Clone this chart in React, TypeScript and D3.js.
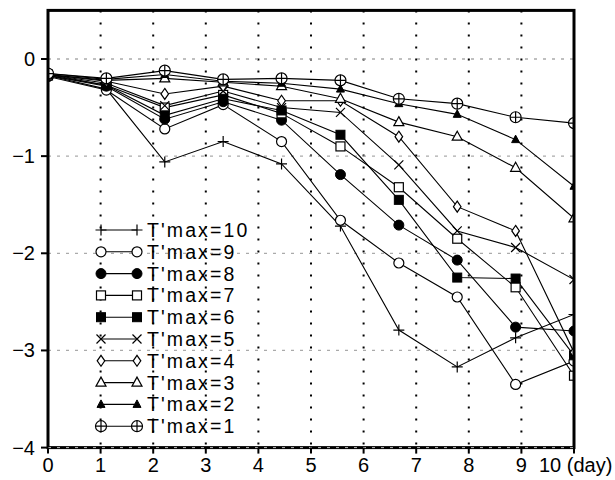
import React from "react";
import * as d3 from "d3";

const days = [0, 1.11, 2.22, 3.33, 4.44, 5.56, 6.67, 7.78, 8.89, 10];
const xTicks = [0, 1, 2, 3, 4, 5, 6, 7, 8, 9];
const yTicks = [0, -1, -2, -3, -4];
const seriesNames = ["T'max=10", "T'max=9", "T'max=8", "T'max=7", "T'max=6", "T'max=5", "T'max=4", "T'max=3", "T'max=2", "T'max=1"];
const t10 = [-0.17, -0.31, -1.06, -0.85, -1.08, -1.72, -2.79, -3.17, -2.87, -2.63];
const t9 = [-0.18, -0.32, -0.72, -0.47, -0.85, -1.66, -2.1, -2.45, -3.35, -3.11];
const t8 = [-0.17, -0.28, -0.62, -0.44, -0.63, -1.19, -1.71, -2.07, -2.76, -2.8];
const t7 = [-0.17, -0.27, -0.5, -0.37, -0.56, -0.9, -1.32, -1.85, -2.35, -3.26];
const t6 = [-0.16, -0.27, -0.58, -0.41, -0.53, -0.78, -1.45, -2.25, -2.26, -3.05];
const t5 = [-0.16, -0.25, -0.48, -0.33, -0.5, -0.55, -1.09, -1.77, -1.94, -2.27];
const t4 = [-0.16, -0.23, -0.36, -0.28, -0.43, -0.43, -0.8, -1.52, -1.77, -3.02];
const t3 = [-0.16, -0.22, -0.2, -0.24, -0.28, -0.41, -0.65, -0.8, -1.12, -1.64];
const t2 = [-0.15, -0.21, -0.16, -0.23, -0.25, -0.31, -0.46, -0.57, -0.83, -1.31];
const t1 = [-0.15, -0.2, -0.12, -0.21, -0.2, -0.22, -0.41, -0.46, -0.6, -0.66];
const seriesValues = [t10, t9, t8, t7, t6, t5, t4, t3, t2, t1];
const markerTypes = ["plus", "circle", "fcircle", "square", "fsquare", "x", "diamond", "triangle", "ftriangle", "circleplus"];

const W = 615, H = 480;
const x = d3.scaleLinear().domain([0, 10]).range([48, 574]);
const y = d3.scaleLinear().domain([-4, 0.5]).range([447.6, 10.4]);

function Marker({ type, cx, cy }: { type: string; cx: number; cy: number }) {
  switch (type) {
    case "plus":
      return <path d={`M${cx - 5.5},${cy}H${cx + 5.5}M${cx},${cy - 5.5}V${cy + 5.5}`} stroke="#000" strokeWidth={1.2} />;
    case "x":
      return <path d={`M${cx - 4.5},${cy - 4.5}L${cx + 4.5},${cy + 4.5}M${cx - 4.5},${cy + 4.5}L${cx + 4.5},${cy - 4.5}`} stroke="#000" strokeWidth={1.2} />;
    case "circle":
      return <circle cx={cx} cy={cy} r={5} fill="#fff" stroke="#000" strokeWidth={1.2} />;
    case "fcircle":
      return <circle cx={cx} cy={cy} r={5} fill="#000" stroke="#000" strokeWidth={1} />;
    case "square":
      return <rect x={cx - 4.5} y={cy - 4.5} width={9} height={9} fill="#fff" stroke="#000" strokeWidth={1.2} />;
    case "fsquare":
      return <rect x={cx - 4.5} y={cy - 4.5} width={9} height={9} fill="#000" stroke="#000" strokeWidth={1} />;
    case "diamond":
      return <path d={`M${cx},${cy - 5.5}L${cx + 3.8},${cy}L${cx},${cy + 5.5}L${cx - 3.8},${cy}Z`} fill="#fff" stroke="#000" strokeWidth={1.2} />;
    case "triangle":
      return <path d={`M${cx},${cy - 5.5}L${cx + 5},${cy + 3.5}L${cx - 5},${cy + 3.5}Z`} fill="#fff" stroke="#000" strokeWidth={1.2} />;
    case "ftriangle":
      return <path d={`M${cx},${cy - 4.5}L${cx + 4},${cy + 3}L${cx - 4},${cy + 3}Z`} fill="#000" stroke="#000" strokeWidth={1} />;
    case "circleplus":
      return (
        <g>
          <circle cx={cx} cy={cy} r={5.5} fill="#fff" stroke="#000" strokeWidth={1.2} />
          <path d={`M${cx - 5.5},${cy}H${cx + 5.5}M${cx},${cy - 5.5}V${cy + 5.5}`} stroke="#000" strokeWidth={1.2} />
        </g>
      );
    default:
      return null;
  }
}

export default function App() {
  const line = d3
    .line<number>()
    .x((_, i) => x(days[i]))
    .y((d) => y(d));
  const left = x(0), right = x(10), top = y(0.5), bottom = y(-4);
  const font = "'Liberation Sans', Arial, Helvetica, sans-serif";
  const legendX1 = 101, legendX2 = 137, legendY0 = 230, legendDy = 21.8;
  return (
    <svg width={W} height={H} style={{ position: "absolute", left: 0, top: 0, background: "#fff" }} fontFamily={font}>
      <defs>
        <clipPath id="plotclip">
          <rect x={left} y={top} width={right - left} height={bottom - top} />
        </clipPath>
      </defs>
      <rect x={0} y={0} width={W} height={H} fill="#fff" />
      {xTicks.filter((t) => t > 0).map((t) => (
        <line key={"vx" + t} x1={x(t)} x2={x(t)} y1={top} y2={bottom} stroke="#000" strokeWidth={2} strokeDasharray="2,10" />
      ))}
      {yTicks.filter((t) => t > -4).map((t) => (
        <line key={"hy" + t} x1={left} x2={right} y1={y(t)} y2={y(t)} stroke="#aaa" strokeWidth={1.3} strokeDasharray="3,6" />
      ))}
      <g clipPath="url(#plotclip)">
        {seriesValues.map((vals, si) => (
          <path key={"l" + si} d={line(vals) || ""} fill="none" stroke="#000" strokeWidth={1.1} />
        ))}
        {seriesValues.map((vals, si) => (
          <g key={"m" + si}>
            {vals.map((v, i) => (
              <Marker key={i} type={markerTypes[si]} cx={x(days[i])} cy={y(v)} />
            ))}
          </g>
        ))}
      </g>
      {seriesNames.map((name, si) => {
        const ly = legendY0 + si * legendDy;
        return (
          <g key={"lg" + si}>
            <line x1={legendX1} x2={legendX2} y1={ly} y2={ly} stroke="#000" strokeWidth={1.1} />
            <Marker type={markerTypes[si]} cx={legendX1} cy={ly} />
            <Marker type={markerTypes[si]} cx={legendX2} cy={ly} />
            <text x={147} y={ly + 7} fontSize={19.5} letterSpacing={2.1} fill="#000">{name}</text>
          </g>
        );
      })}
      <rect x={left} y={top} width={right - left} height={bottom - top} fill="none" stroke="#000" strokeWidth={3} />
      <line x1={left} x2={right} y1={bottom} y2={bottom} stroke="#bbb" strokeWidth={1} strokeDasharray="3,6" />
      {yTicks.map((t) => (
        <g key={"yt" + t}>
          <line x1={left - 7} x2={left} y1={y(t)} y2={y(t)} stroke="#000" strokeWidth={2} />
          <text x={35} y={y(t) + 7} fontSize={20} textAnchor="end" fill="#000">{t === 0 ? "0" : "\u2212" + Math.abs(t)}</text>
        </g>
      ))}
      {[...xTicks, 10].map((t) => (
        <line key={"xt" + t} x1={x(t)} x2={x(t)} y1={bottom} y2={bottom + 6} stroke="#000" strokeWidth={2} />
      ))}
      {xTicks.map((t) => (
        <text key={"xl" + t} x={x(t)} y={472} fontSize={20} textAnchor="middle" fill="#000">{String(t)}</text>
      ))}
      <text x={539} y={472} fontSize={20} fill="#000">10 (day)</text>
    </svg>
  );
}
